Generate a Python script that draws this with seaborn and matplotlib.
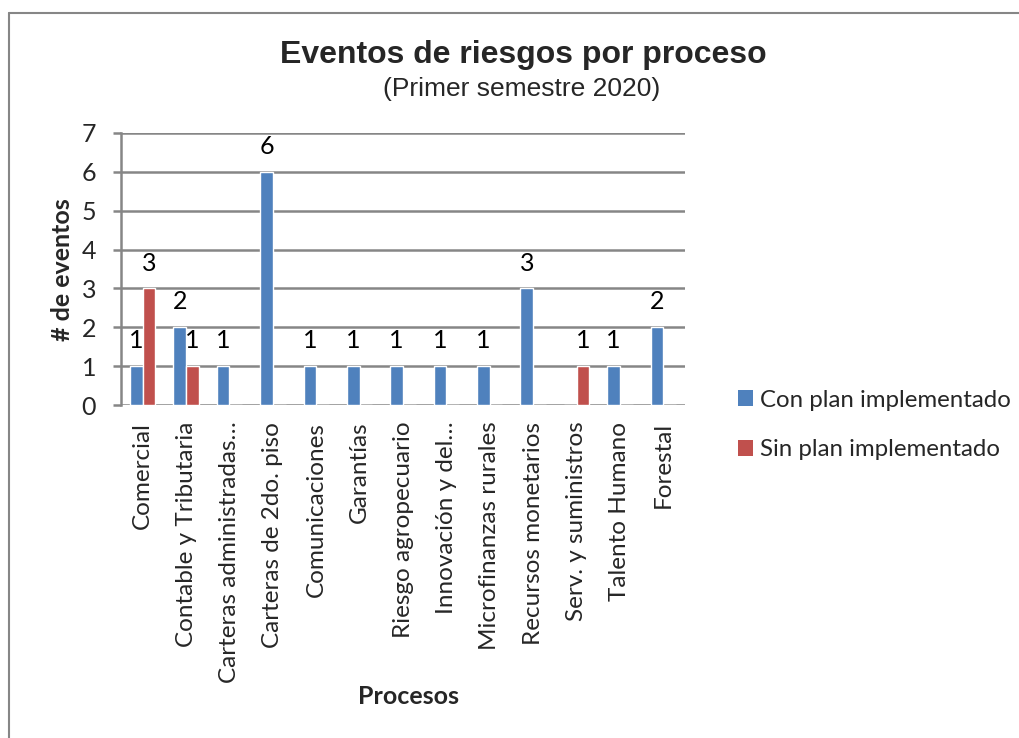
import matplotlib
matplotlib.use("Agg")
import matplotlib.pyplot as plt
from matplotlib.lines import Line2D
from matplotlib.patches import Patch
import seaborn as sns
import pandas as pd

categorias = ["Comercial", "Contable y Tributaria", "Carteras administradas…",
              "Carteras de 2do. piso", "Comunicaciones", "Garantías",
              "Riesgo agropecuario", "Innovación y del…", "Microfinanzas rurales",
              "Recursos monetarios", "Serv. y suministros", "Talento Humano", "Forestal"]
con_plan = [1, 2, 1, 6, 1, 1, 1, 1, 1, 3, 0, 1, 2]
sin_plan = [3, 1, 0, 0, 0, 0, 0, 0, 0, 0, 1, 0, 0]
series = ["Con plan implementado", "Sin plan implementado"]
colores = ["#4F81BD", "#C0504D"]
y_ticks = [0, 1, 2, 3, 4, 5, 6, 7]

df = pd.DataFrame({
    "Proceso": categorias * 2,
    "Serie": [series[0]] * len(categorias) + [series[1]] * len(categorias),
    "Eventos": con_plan + sin_plan,
})

sns.set_theme(style="white")
plt.rcParams["font.family"] = ["Lato", "DejaVu Sans"]

W, H = 1019, 738
fig = plt.figure(figsize=(W / 100, H / 100), dpi=100)
ax = fig.add_axes([121 / W, 1 - 405 / H, (685 - 121) / W, (405 - 133) / H])

sns.barplot(data=df, x="Proceso", y="Eventos", hue="Serie", order=categorias,
            hue_order=series, palette=colores, width=0.586, gap=0,
            saturation=1, ax=ax, legend=False, errorbar=None)

for cont in ax.containers:
    labels = [f"{v:g}" if v > 0 else "" for v in cont.datavalues]
    ax.bar_label(cont, labels=labels, padding=10, fontsize=18, color="black")

ax.set_ylim(0, 7)
ax.set_yticks(y_ticks)
ax.set_xlim(-0.5, len(categorias) - 0.5)
ax.yaxis.grid(True, color="#868686", linewidth=1.8)
ax.set_axisbelow(True)
for s in ["top", "right"]:
    ax.spines[s].set_visible(False)
ax.spines["bottom"].set_visible(False)
ax.spines["left"].set_color("#868686")
ax.spines["left"].set_linewidth(1.8)
ax.tick_params(axis="y", length=6, width=1.8, color="#868686", labelsize=18, pad=12, left=True)
ax.tick_params(axis="x", length=0, labelsize=17.5, pad=12)
ax.set_xticks(range(len(categorias)))
ax.set_xticklabels(categorias, rotation=90, va="top", ha="center")
ax.set_xlabel("")
ax.set_ylabel("")

fig.text(523 / W, 1 - 55 / H, "Eventos de riesgos por proceso", ha="center", va="center",
         fontsize=23, fontweight="bold", family=["Liberation Sans", "DejaVu Sans"])
fig.text(522 / W, 1 - 89 / H, "(Primer semestre 2020)", ha="center", va="center",
         fontsize=19, family=["Liberation Sans", "DejaVu Sans"])
fig.text(62 / W, 1 - 270 / H, "# de eventos", ha="center", va="center", rotation=90,
         fontsize=18, fontweight="bold")
fig.text(408 / W, 1 - 697 / H, "Procesos", ha="center", va="center",
         fontsize=18, fontweight="bold")

handles = [Patch(facecolor=c, edgecolor="none") for c in colores]
fig.legend(handles, series, loc="center left", bbox_to_anchor=(716 / W, 1 - 425 / H),
           frameon=False, fontsize=17.3, handlelength=0.62, handleheight=0.62,
           handletextpad=0.3, labelspacing=1.2)

fig.add_artist(Line2D([9 / W, 9 / W], [0, 1 - 13 / H], color="#868686", linewidth=1.5))
fig.add_artist(Line2D([9 / W, 1], [1 - 13 / H, 1 - 13 / H], color="#868686", linewidth=1.5))

fig.savefig("out.png", dpi=100)
